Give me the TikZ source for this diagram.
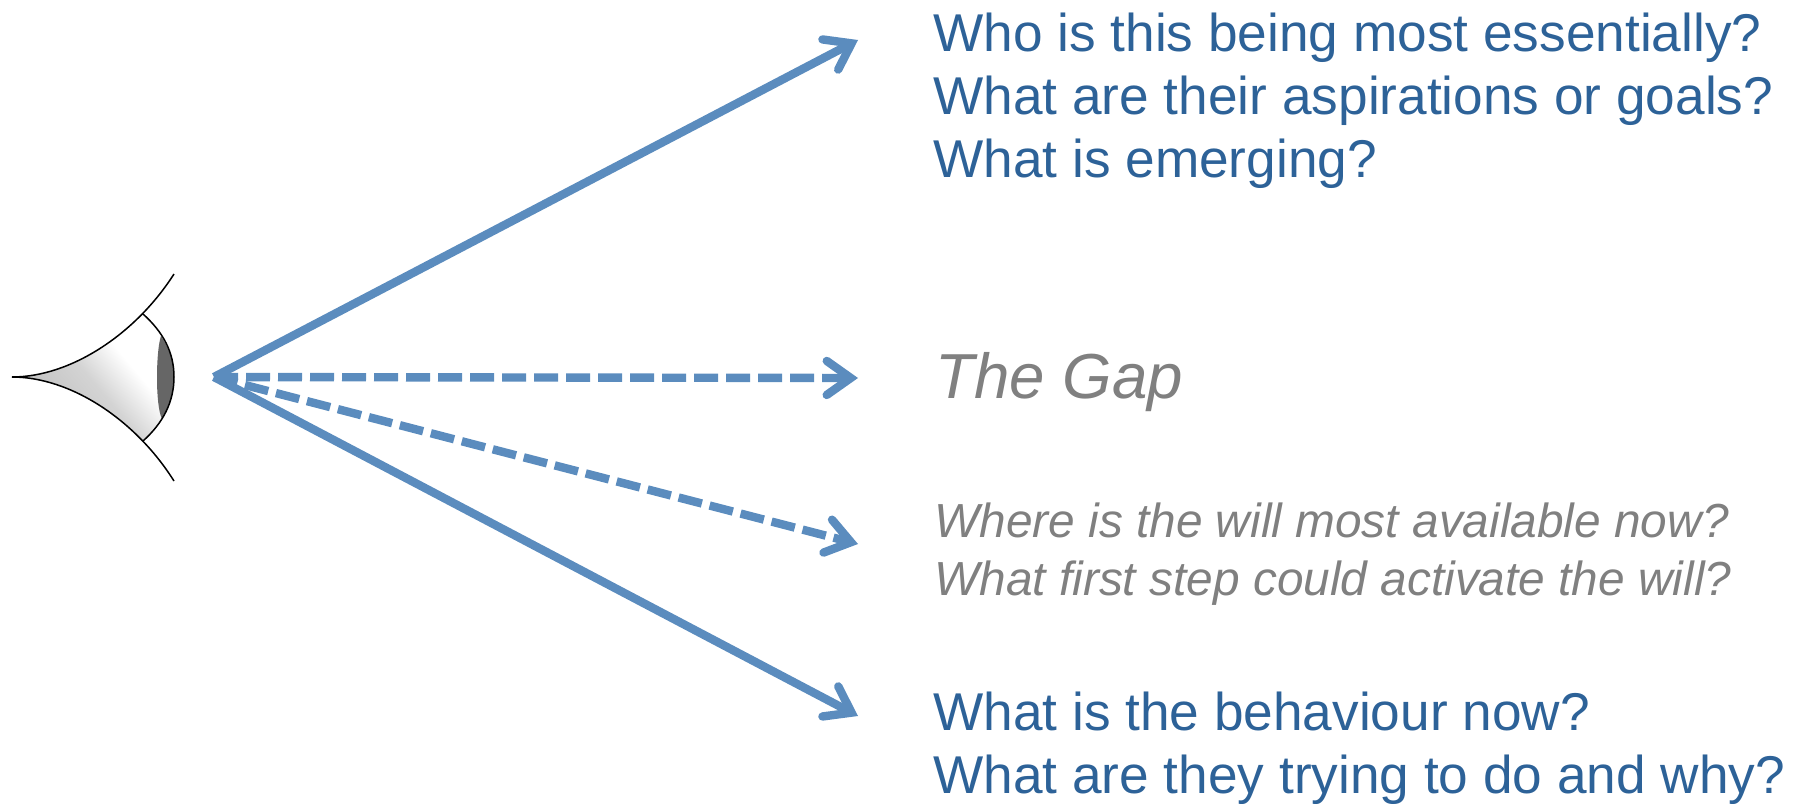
\documentclass[tikz,border=0pt]{standalone}
\usepackage{fontspec}
\setmainfont{Liberation Sans}
\usetikzlibrary{arrows.meta,shadings}
\definecolor{arrowblue}{RGB}{91,140,190}
\definecolor{textblue}{RGB}{45,98,152}
\definecolor{textgray}{RGB}{128,128,128}
\pgfdeclarehorizontalshading{eyeshade}{100bp}{color(0bp)=(black!24); color(30bp)=(black!24); color(48bp)=(black!17); color(62bp)=(white); color(100bp)=(white)}
\tikzset{
  ray/.style={draw=arrowblue,line width=4.2pt,-{Straight Barb[length=12pt,width=17pt,line cap=round,line join=miter]}},
  gapray/.style={ray,dash pattern=on 12pt off 4pt},
  bluetext/.style={text=textblue,font=\fontsize{26.6pt}{31.5pt}\selectfont,align=left,anchor=west,inner sep=0pt},
  graytext/.style={text=textgray,font=\fontsize{23.9pt}{28.7pt}\selectfont\itshape,align=left,anchor=west,inner sep=0pt},
  gaptext/.style={text=textgray,font=\fontsize{31.8pt}{36pt}\selectfont\itshape,anchor=west,inner sep=0pt},
  eyeline/.style={draw=black,line width=0.75pt}
}
\begin{document}
\begin{tikzpicture}[x=0.5pt,y=-0.5pt]
\useasboundingbox (0,0) rectangle (1798,803);
% eye
\path[shading=eyeshade,shading angle=40]
  (20,377) .. controls (65,372) and (110,350) .. (143,314)
  .. controls (163,332) and (174,352) .. (174,377)
  .. controls (174,402) and (163,423) .. (143,441)
  .. controls (110,405) and (65,382) .. (20,377) -- cycle;
\fill[black!60] (161,336) .. controls (170,350) and (174,362) .. (174,377)
  .. controls (174,392) and (170,405) .. (162,419)
  .. controls (155,405) and (156,350) .. (161,336) -- cycle;
\draw[eyeline] (12,377) .. controls (70,377) and (135,335) .. (174,274);
\draw[eyeline] (12,377) .. controls (70,377) and (135,419) .. (174,481);
\draw[eyeline] (143,314) .. controls (163,332) and (174,352) .. (174,377)
  .. controls (174,402) and (163,423) .. (143,441);
% arrows
\coordinate (origin) at (214,377);
\coordinate (tipA) at (858,40);
\coordinate (tipB) at (858,378);
\coordinate (tipC) at (858,544);
\coordinate (tipD) at (858,716);
\draw[ray] (origin) -- (tipA);
\draw[ray] (origin) -- (tipD);
\draw[gapray] (origin) -- (tipB);
\draw[gapray] (origin) -- (tipC);
% text
\node[bluetext] (upper) at (933,101) {Who is this being most essentially?\\What are their aspirations or goals?\\What is emerging?};
\node[gaptext] (gap) at (935,382) {The Gap};
\node[graytext] (will) at (934,554) {Where is the will most available now?\\What first step could activate the will?};
\node[bluetext] (lower) at (933,748) {What is the behaviour now?\\What are they trying to do and why?};
\end{tikzpicture}
\end{document}
